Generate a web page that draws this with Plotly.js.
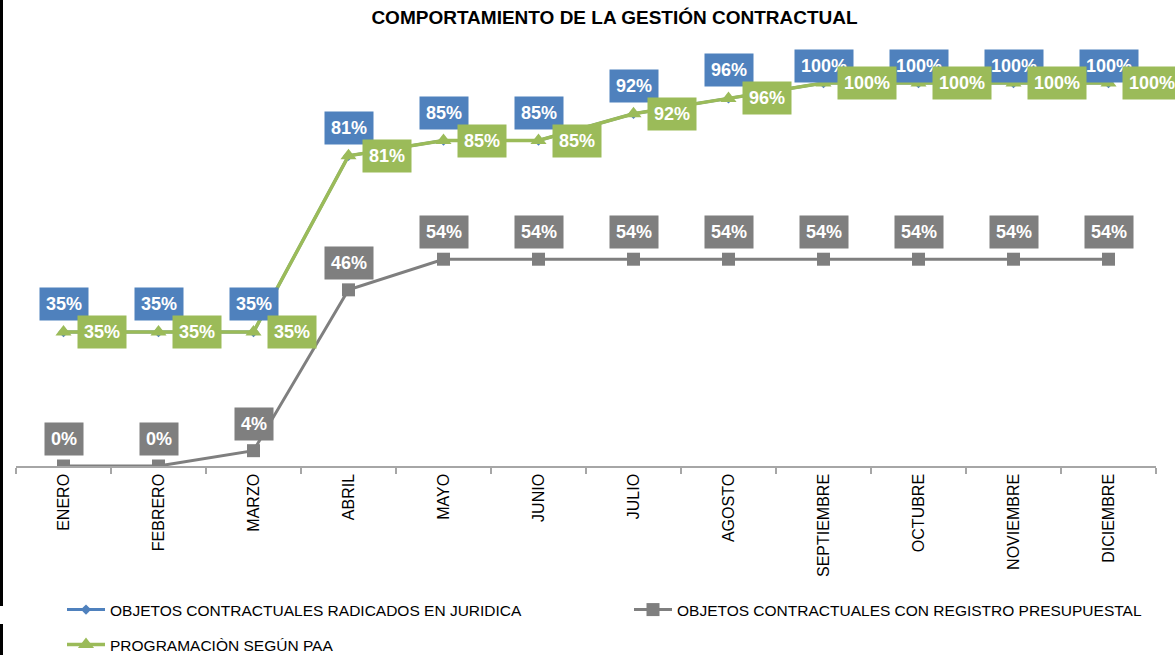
<!DOCTYPE html>
<html>
<head>
<meta charset="utf-8">
<script src="https://cdn.plot.ly/plotly-3.0.1.min.js"></script>
<style>
html,body{margin:0;padding:0;background:#fff;}
#chart{width:1175px;height:655px;position:relative;}
.edge{position:absolute;left:0;width:3px;background:#000;z-index:10;}
</style>
</head>
<body>
<div id="chart"></div>
<div class="edge" style="top:0;height:606px;"></div>
<div class="edge" style="top:624px;height:31px;"></div>
<script>
const months = ["ENERO","FEBRERO","MARZO","ABRIL","MAYO","JUNIO","JULIO","AGOSTO","SEPTIEMBRE","OCTUBRE","NOVIEMBRE","DICIEMBRE"];
const radicados = [0.35,0.35,0.35,0.81,0.85,0.85,0.92,0.96,1.00,1.00,1.00,1.00];
const registro = [0,0,0.04,0.46,0.54,0.54,0.54,0.54,0.54,0.54,0.54,0.54];
const programacion = [0.35,0.35,0.35,0.81,0.85,0.85,0.92,0.96,1.00,1.00,1.00,1.00];
const names = ["OBJETOS CONTRACTUALES RADICADOS EN JURIDICA","OBJETOS CONTRACTUALES CON REGISTRO PRESUPUESTAL","PROGRAMACIÒN SEGÚN PAA"];

const BLUE = "#4F81BD", GRAY = "#7F7F7F", GREEN = "#9BBB59";
const pct = v => Math.round(v*100) + "%";

const traces = [
  {x: months, y: radicados, name: names[0], type: "scatter", mode: "lines+markers",
   line: {color: BLUE, width: 3}, marker: {symbol: "diamond", size: 8, color: BLUE}, legend: "legend"},
  {x: months, y: registro, name: names[1], type: "scatter", mode: "lines+markers",
   line: {color: GRAY, width: 3}, marker: {symbol: "square", size: 13, color: GRAY}, legend: "legend2"},
  {x: months, y: programacion, name: names[2], type: "scatter", mode: "lines+markers",
   line: {color: GREEN, width: 3.5}, marker: {symbol: "triangle-up", size: 14, color: GREEN}, legend: "legend3"}
];

const labFont = {family: "Liberation Sans, Arial, sans-serif", size: 18, color: "#fff"};
const annotations = [];
months.forEach((m, i) => {
  annotations.push({x: m, y: registro[i], xref: "x", yref: "y", text: "<b>" + pct(registro[i]) + "</b>",
    showarrow: false, bgcolor: GRAY, borderpad: 6, font: labFont, yanchor: "bottom", yshift: 10});
});
months.forEach((m, i) => {
  annotations.push({x: m, y: radicados[i], xref: "x", yref: "y", text: "<b>" + pct(radicados[i]) + "</b>",
    showarrow: false, bgcolor: BLUE, borderpad: 6, font: labFont, yanchor: "bottom",
    yshift: radicados[i] >= 0.995 ? 0 : 11});
});
months.forEach((m, i) => {
  annotations.push({x: m, y: programacion[i], xref: "x", yref: "y", text: "<b>" + pct(programacion[i]) + "</b>",
    showarrow: false, bgcolor: GREEN, borderpad: 6, font: labFont, xanchor: "left", xshift: 13});
});

const legFont = {family: "Liberation Sans, Arial, sans-serif", size: 15.5, color: "#000"};
const leg = (x, y) => ({orientation: "h", xref: "container", yref: "container", x: x, xanchor: "left",
  y: y, yanchor: "middle", font: legFont, bgcolor: "rgba(0,0,0,0)", borderwidth: 0, itemwidth: 38});
const layout = {
  width: 1175, height: 655,
  paper_bgcolor: "#fff", plot_bgcolor: "#fff",
  margin: {l: 16, r: 19, t: 44, b: 189},
  title: {text: "<b>COMPORTAMIENTO DE LA GESTIÓN CONTRACTUAL</b>", x: 0.523, xanchor: "center",
    yref: "container", y: 1 - 17/655, yanchor: "middle",
    font: {family: "Liberation Sans, Arial, sans-serif", size: 19, color: "#000"}},
  xaxis: {type: "category", range: [-0.5, 11.5], autorange: false, automargin: false,
    showline: true, linecolor: "#A6A6A6", linewidth: 1.5,
    ticks: "outside", tickson: "boundaries", ticklen: 6, tickcolor: "#A6A6A6", tickwidth: 1.5,
    tickangle: -90, showgrid: false, zeroline: false,
    tickfont: {family: "Liberation Sans, Arial, sans-serif", size: 16, color: "#000"}},
  yaxis: {range: [0, 1.102], autorange: false, visible: false, showgrid: false, zeroline: false, automargin: false},
  showlegend: true,
  legend: leg(62/1175, 1 - 610/655),
  legend2: leg(629/1175, 1 - 610/655),
  legend3: leg(62/1175, 1 - 645/655),
  annotations: annotations
};

Plotly.newPlot("chart", traces, layout, {displayModeBar: false, staticPlot: true});
</script>
</body>
</html>
